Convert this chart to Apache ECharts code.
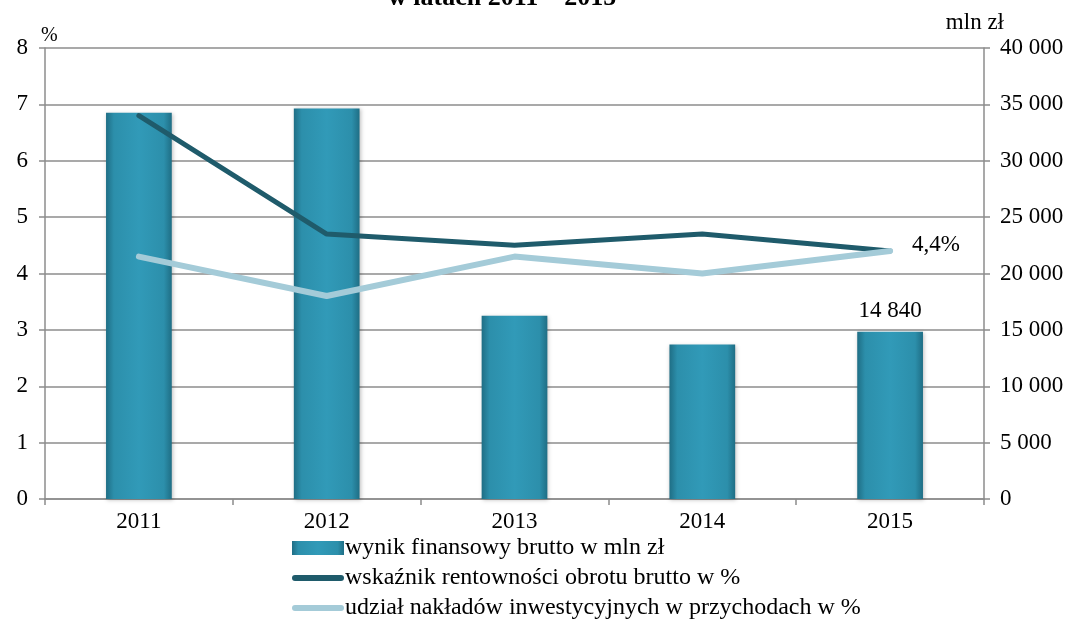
<!DOCTYPE html>
<html>
<head>
<meta charset="utf-8">
<script src="https://cdn.jsdelivr.net/npm/echarts@6/dist/echarts.min.js"></script>
<style>
  html, body { margin: 0; padding: 0; background: #fff; }
  #chart { width: 1072px; height: 623px; }
</style>
</head>
<body>
<div id="chart"></div>
<script>
const years = ['2011', '2012', '2013', '2014', '2015'];
const wynik = [34250, 34640, 16250, 13700, 14840];
const rentownosc = [6.8, 4.7, 4.5, 4.7, 4.4];
const naklady = [4.3, 3.6, 4.3, 4.0, 4.4];
const names = [
  'wynik finansowy brutto w mln zł',
  'wskaźnik rentowności obrotu brutto w %',
  'udział nakładów inwestycyjnych w przychodach w %'
];

const font = 'Liberation Serif';
const fs = 23;
const gridColor = '#8c8c8c';
const lineIcon = 'path://M3,0 L49,0 A3,3 0 0 1 49,6 L3,6 A3,3 0 0 1 3,0 Z';

function fmtThousands(v) {
  return String(v).replace(/\B(?=(\d{3})+(?!\d))/g, ' ');
}

const chart = echarts.init(document.getElementById('chart'));

chart.setOption({
  animation: false,
  textStyle: { fontFamily: font, color: '#000' },
  title: {
    text: 'w latach 2011 – 2015',
    left: 388,
    top: -15,
    padding: 0,
    textStyle: { fontFamily: font, fontSize: 26, fontWeight: 'bold', color: '#000' }
  },
  grid: { left: 45, right: 88, top: 48, bottom: 124 },
  legend: {
    orient: 'vertical',
    left: 292,
    top: 536,
    height: 140,
    padding: 0,
    itemWidth: 52,
    itemHeight: 14,
    itemGap: 6,
    textStyle: { fontFamily: font, fontSize: 24, color: '#000', lineHeight: 22, padding: [0, 0, 0, -4] },
    data: [
      { name: names[0], icon: 'rect' },
      { name: names[1], icon: lineIcon },
      { name: names[2], icon: lineIcon }
    ]
  },
  xAxis: {
    type: 'category',
    data: years,
    axisLine: { lineStyle: { color: gridColor, width: 1.5 } },
    axisTick: { show: true, length: 6, lineStyle: { color: gridColor, width: 1.5 } },
    axisLabel: { fontFamily: font, fontSize: fs, color: '#000', margin: 11 }
  },
  yAxis: [
    {
      type: 'value',
      min: 0,
      max: 8,
      interval: 1,
      name: '%',
      nameGap: 2,
      nameTextStyle: { fontFamily: font, fontSize: 20, color: '#000', align: 'left', padding: [0, 0, 0, -4] },
      axisLine: { show: true, lineStyle: { color: gridColor, width: 1.5 } },
      axisTick: { show: true, length: 6, lineStyle: { color: gridColor, width: 1.5 } },
      axisLabel: { fontFamily: font, fontSize: fs, color: '#000', margin: 17 },
      splitLine: { lineStyle: { color: gridColor, width: 1.5 } }
    },
    {
      type: 'value',
      min: 0,
      max: 40000,
      interval: 5000,
      name: 'mln zł',
      nameGap: 14,
      nameTextStyle: { fontFamily: font, fontSize: fs, color: '#000', align: 'right', padding: [0, -20, 0, 0] },
      axisLine: { show: true, lineStyle: { color: gridColor, width: 1.5 } },
      axisTick: { show: true, length: 6, lineStyle: { color: gridColor, width: 1.5 } },
      axisLabel: { fontFamily: font, fontSize: fs, color: '#000', margin: 16, formatter: fmtThousands },
      splitLine: { show: false }
    }
  ],
  series: [
    {
      name: names[0],
      type: 'bar',
      yAxisIndex: 1,
      barWidth: '35%',
      data: wynik.map((v, i) => ({
        value: v,
        label: i === wynik.length - 1 ? { show: true } : { show: false }
      })),
      label: {
        position: 'top',
        distance: 9,
        fontFamily: font,
        fontSize: fs,
        color: '#000',
        formatter: (p) => fmtThousands(p.value)
      },
      itemStyle: {
        color: new echarts.graphic.LinearGradient(0, 0, 1, 0, [
          { offset: 0, color: '#1f6e85' },
          { offset: 0.12, color: '#2c8fab' },
          { offset: 0.5, color: '#319ab8' },
          { offset: 0.88, color: '#2c8fab' },
          { offset: 1, color: '#1f6e85' }
        ]),
        shadowBlur: 4,
        shadowColor: 'rgba(0,0,0,0.25)',
        shadowOffsetX: 1,
        shadowOffsetY: 1
      }
    },
    {
      name: names[1],
      type: 'line',
      yAxisIndex: 0,
      data: rentownosc,
      symbol: 'none',
      lineStyle: { color: '#1f5b6b', width: 5, cap: 'round' },
      itemStyle: { color: '#1f5b6b' },
      endLabel: {
        show: true,
        distance: 22,
        fontFamily: font,
        fontSize: fs,
        color: '#000',
        offset: [0, -6],
        formatter: (p) => String(p.value).replace('.', ',') + '%'
      }
    },
    {
      name: names[2],
      type: 'line',
      yAxisIndex: 0,
      data: naklady,
      symbol: 'none',
      lineStyle: { color: '#a4cbd8', width: 6, cap: 'round' },
      itemStyle: { color: '#a4cbd8' }
    }
  ]
});
</script>
</body>
</html>
